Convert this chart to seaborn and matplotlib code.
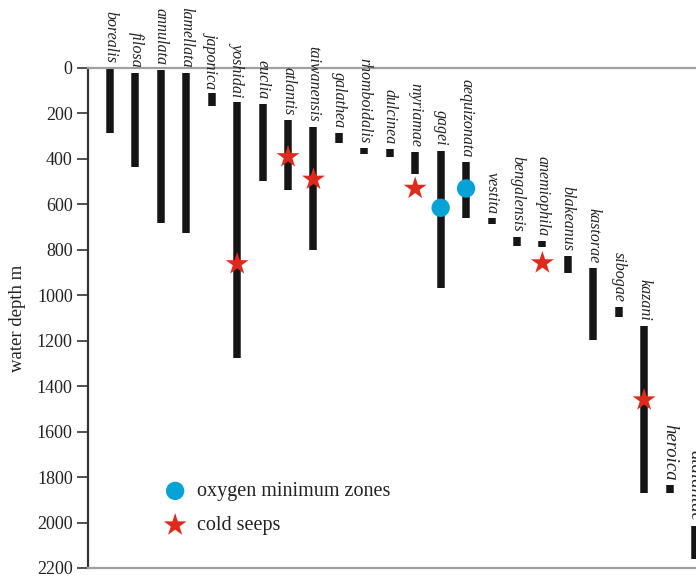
import pandas as pd
import numpy as np
import matplotlib.pyplot as plt
import seaborn as sns

# species and depth ranges (m)
species = ['borealis', 'filosa', 'annulata', 'lamellata', 'japonica', 'yoshidai',
           'euclia', 'atlantis', 'taiwanensis', 'galathea', 'rhomboidalis',
           'dulcinea', 'myriamae', 'gagei', 'aequizonata', 'vestita',
           'bengalensis', 'anemiophila', 'blakeanus', 'kastorae', 'sibogae',
           'kazani', 'heroica', 'atalantae']
depth_top = [0, 20, 10, 20, 110, 148, 158, 229, 260, 286, 352, 356, 370, 365,
             415, 662, 743, 760, 827, 880, 1050, 1135, 1835, 2015]
depth_bottom = [285, 435, 680, 725, 167, 1276, 497, 537, 800, 330, 378, 390,
                467, 968, 662, 688, 783, 787, 903, 1197, 1096, 1870, 1870, 2160]

# oxygen minimum zones and cold seeps
omz_species = ['gagei', 'aequizonata']
omz_depth = [615, 530]
seep_species = ['yoshidai', 'atlantis', 'taiwanensis', 'myriamae', 'anemiophila', 'kazani']
seep_depth = [862, 391, 490, 530, 858, 1461]

big_labels = ['heroica', 'atalantae']

df = pd.DataFrame({'species': species, 'top': depth_top, 'bottom': depth_bottom})
df['pos'] = np.arange(len(df))
pos = dict(zip(df['species'], df['pos']))
omz = pd.DataFrame({'pos': [pos[s] for s in omz_species], 'depth': omz_depth})
seep = pd.DataFrame({'pos': [pos[s] for s in seep_species], 'depth': seep_depth})

sns.set_style('white')
plt.rcParams['font.family'] = ['Liberation Serif', 'DejaVu Serif']

W, H = 696, 577
fig = plt.figure(figsize=(W / 100, H / 100), dpi=100)
ax = fig.add_axes([88 / W, 1 - 568 / H, (710 - 88) / W, 500 / H])

# depth range bars
ax.vlines(df['pos'], df['top'], df['bottom'], color='#151515', linewidth=5.4,
          capstyle='butt', zorder=2)

sns.scatterplot(data=omz, x='pos', y='depth', ax=ax, marker='o', s=175,
                color='#07a3d6', edgecolor='none', label='oxygen minimum zones', zorder=3)
sns.scatterplot(data=seep, x='pos', y='depth', ax=ax, marker='*', s=300,
                color='#e0291d', edgecolor='none', label='cold seeps', zorder=3)

# species names above each bar
for _, r in df.iterrows():
    fs = 13.5 if r['species'] in big_labels else 11.5
    ax.annotate(r['species'], (r['pos'], r['top']), xytext=(0, 3.5),
                textcoords='offset points', rotation=-90, ha='center', va='bottom',
                fontsize=fs, style='italic', color='#222222', annotation_clip=False)

unit = 585 / 23
ax.set_xlim(-22 / unit, 23 + 15 / unit)
ax.set_ylim(2200, 0)
ax.set_yticks(np.arange(0, 2201, 200))
ax.set_xticks([])
ax.set_xlabel('')
ax.set_ylabel('water depth m', fontsize=13.5, color='#222222')
ax.yaxis.set_label_coords(-0.1, 0.5)
ax.tick_params(axis='y', direction='out', length=8, width=1.2, color='#333333',
               labelsize=13, labelcolor='#222222', pad=3, left=True)

for side in ['top', 'bottom']:
    ax.spines[side].set_color('#a0a0a0')
    ax.spines[side].set_linewidth(1.6)
ax.spines['left'].set_color('#333333')
ax.spines['left'].set_linewidth(1.6)
ax.spines['right'].set_visible(False)

leg = ax.legend(loc='upper left', bbox_to_anchor=(153 / W, 1 - 472 / H),
                bbox_transform=fig.transFigure, frameon=False, fontsize=14.5,
                handletextpad=0.5, labelspacing=0.75, borderpad=0, handlelength=1.2)
for t in leg.get_texts():
    t.set_color('#222222')

fig.savefig('out.png', dpi=100)
